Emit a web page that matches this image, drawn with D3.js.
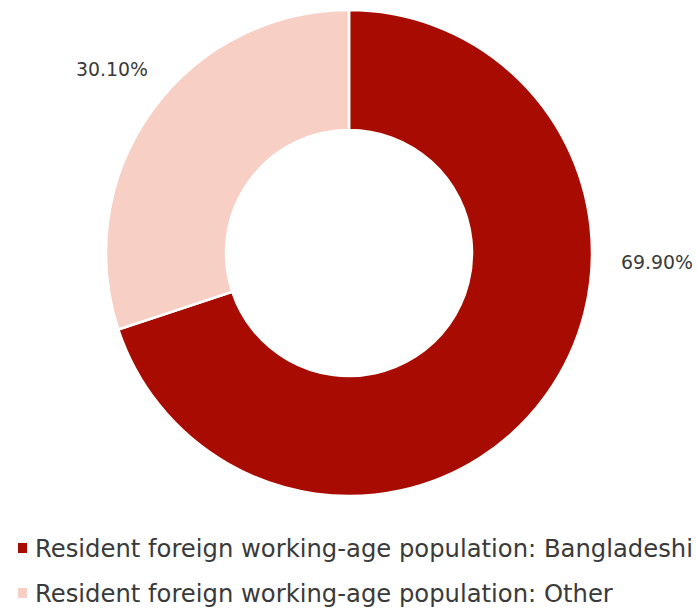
<!DOCTYPE html>
<html>
<head>
<meta charset="utf-8">
<script src="https://cdn.jsdelivr.net/npm/d3@7"></script>
<style>
  html, body { margin: 0; padding: 0; background: #fff; }
  svg { display: block; }
  text { font-family: "DejaVu Sans", "Noto Sans", sans-serif; fill: #3a3a3a; }
</style>
</head>
<body>
<svg id="chart" width="697" height="610"></svg>
<script>
// Share of the resident foreign working-age population
const categories = [
  "Resident foreign working-age population: Bangladeshi",
  "Resident foreign working-age population: Other"
];
const shares = [69.90, 30.10];
const valueLabels = ["69.90%", "30.10%"];
const colors = ["#a80c00", "#f7cfc4"];

const svg = d3.select("#chart");
const cx = 349, cy = 253;
const outerR = 243, innerR = 123;

const pie = d3.pie().sort(null).value(d => d)(shares);
const arc = d3.arc().innerRadius(innerR).outerRadius(outerR);

const g = svg.append("g").attr("transform", `translate(${cx},${cy})`);

g.selectAll("path.slice")
  .data(pie)
  .join("path")
  .attr("class", "slice")
  .attr("d", arc)
  .attr("fill", (d, i) => colors[i])
  .attr("stroke", "#fff")
  .attr("stroke-width", 2.5)
  .attr("stroke-linejoin", "miter");

// Value labels sit outside the ring, offset from the centre of the donut
const labelOffsets = [[308, 9], [-237, -184]];
const valueText = g.selectAll("text.value")
  .data(pie)
  .join("text")
  .attr("class", "value")
  .attr("text-anchor", "middle")
  .attr("dominant-baseline", "central")
  .attr("font-size", 18)
  .attr("x", (d, i) => labelOffsets[i][0])
  .attr("y", (d, i) => labelOffsets[i][1])
  .text((d, i) => valueLabels[i]);

// Fit value labels to a common width
const vLen = valueText.nodes()[0].getComputedTextLength();
valueText.attr("font-size", (18 * 72 / vLen).toFixed(2));

// Legend
const legend = svg.append("g").attr("transform", "translate(18,548)");
const rows = legend.selectAll("g.row")
  .data(categories)
  .join("g")
  .attr("class", "row")
  .attr("transform", (d, i) => `translate(0,${i * 45})`);

rows.append("rect")
  .attr("x", 0).attr("y", -5)
  .attr("width", 9).attr("height", 10)
  .attr("fill", (d, i) => colors[i]);

const legendText = rows.append("text")
  .attr("x", 17)
  .attr("dominant-baseline", "central")
  .attr("font-size", 19)
  .text(d => d);

// Fit the legend's longest line to the available width
const firstLen = legendText.nodes()[0].getComputedTextLength();
const fitted = 19 * 658 / firstLen;
legendText.attr("font-size", fitted.toFixed(2));
</script>
</body>
</html>
